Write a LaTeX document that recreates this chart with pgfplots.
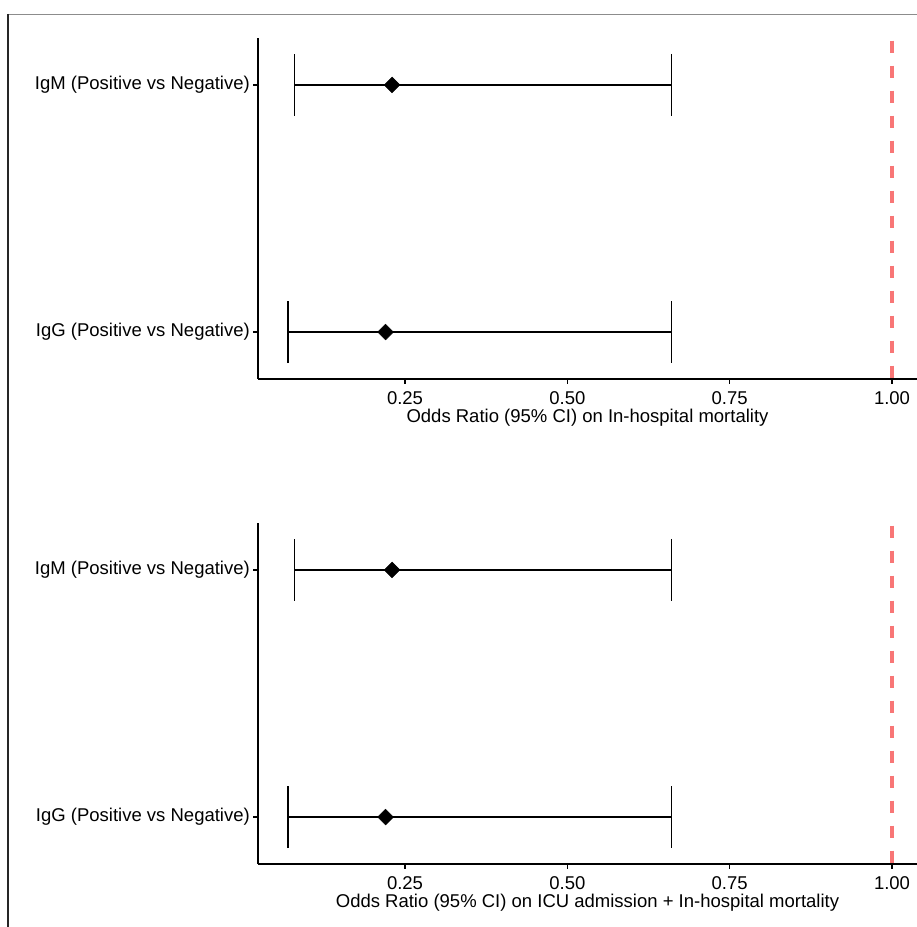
\documentclass[border=0pt]{standalone}
\usepackage{fontspec}
\setmainfont{Liberation Sans}
\usepackage{pgfplots}
\usepackage{pgfplotstable}
\pgfplotsset{compat=1.18}
\definecolor{refline}{RGB}{248,118,118}
\newcommand{\ff}{\fontsize{18.5bp}{22bp}\selectfont}

\pgfplotstableread{
y lo est hi
2 0.08 0.23 0.66
1 0.07 0.22 0.66
}\mortality
\pgfplotstableread{
y lo est hi
2 0.08 0.23 0.66
1 0.07 0.22 0.66
}\icumortality

\pgfplotsset{
  forest/.style={
    scale only axis, width=659bp, height=341bp,
    xmin=0.0236, xmax=1.0385, ymin=0.81, ymax=2.19,
    axis x line*=bottom, axis y line*=left,
    axis line style={line width=1.4bp, black, -},
    tick align=outside, major tick length=5bp,
    tick style={line width=1.4bp, black},
    xtick={0.25,0.5,0.75,1}, xticklabels={0.25,0.50,0.75,1.00},
    ytick={1,2}, yticklabels={IgG (Positive vs Negative), IgM (Positive vs Negative)},
    tick label style={font=\ff},
    xticklabel style={inner sep=0pt, anchor=base, yshift=-21bp},
    yticklabel style={inner sep=0pt, anchor=east, xshift=-3bp},
    every axis x label/.style={at={(axis description cs:0.5,0)}, anchor=base, yshift=-43.5bp, font=\ff, inner sep=0pt},
    clip=false,
  },
  ci/.style={only marks, mark=square*, mark options={rotate=45, fill=black, draw=black}, mark size=5.6bp, color=black,
    error bars/.cd, x dir=both, x explicit, error mark=|,
    error bar style={line width=1.4bp, black},
    error mark options={line width=1.4bp, black, mark size=31bp}},
}

\begin{document}
\ff
\begin{tikzpicture}[x=1bp,y=1bp]
\useasboundingbox (0,0) rectangle (917,927);
\draw[line width=1.5bp, black!45] (7.5,912.5) -- (917,912.5);
\draw[line width=1.5bp, black!85] (8,913.2) -- (8,0);

\begin{axis}[forest, at={(258bp,548bp)}, anchor=south west,
  xlabel={Odds Ratio (95\% CI) on In-hospital mortality}]
  \addplot[refline, line width=3.3bp, dash pattern=on 12bp off 13bp, dash phase=22.3bp] coordinates {(1,2.19) (1,0.81)};
  \addplot[ci] table[x=est, y=y, x error plus expr=\thisrow{hi}-\thisrow{est}, x error minus expr=\thisrow{est}-\thisrow{lo}] {\mortality};
\end{axis}

\begin{axis}[forest, at={(258bp,63bp)}, anchor=south west,
  xlabel={Odds Ratio (95\% CI) on ICU admission + In-hospital mortality}]
  \addplot[refline, line width=3.3bp, dash pattern=on 12bp off 13bp, dash phase=22.3bp] coordinates {(1,2.19) (1,0.81)};
  \addplot[ci] table[x=est, y=y, x error plus expr=\thisrow{hi}-\thisrow{est}, x error minus expr=\thisrow{est}-\thisrow{lo}] {\icumortality};
\end{axis}
\end{tikzpicture}
\end{document}
